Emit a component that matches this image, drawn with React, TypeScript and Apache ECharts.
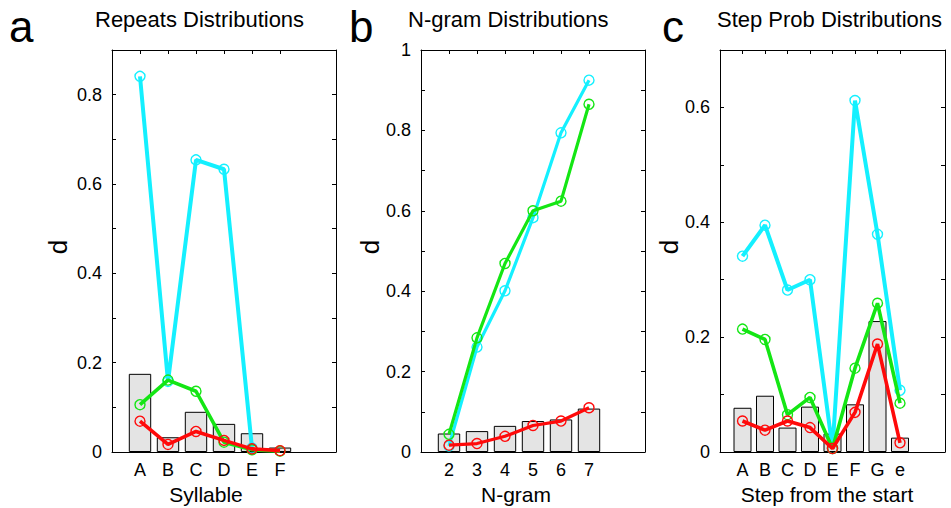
import React, { useEffect, useRef } from "react";
import * as echarts from "echarts";

// ---------- data ----------
const syllables = ["A", "B", "C", "D", "E", "F"];
const repeatsBars = [0.175, 0.033, 0.09, 0.063, 0.042, 0.01];
const repeatsCyan = [0.841, 0.158, 0.654, 0.633, 0.009, null];
const repeatsGreen = [0.106, 0.161, 0.136, 0.022, 0.005, 0.002];
const repeatsRed = [0.069, 0.017, 0.046, 0.026, 0.007, 0.003];

const ngrams = ["2", "3", "4", "5", "6", "7"];
const ngramBars = [0.046, 0.052, 0.065, 0.077, 0.081, 0.108];
const ngramCyan = [0.015, 0.261, 0.401, 0.583, 0.794, 0.925];
const ngramGreen = [0.044, 0.284, 0.469, 0.6, 0.624, 0.865];
const ngramRed = [0.017, 0.021, 0.039, 0.066, 0.077, 0.11];

const steps = ["A", "B", "C", "D", "E", "F", "G", "e"];
const stepBars = [0.077, 0.098, 0.0425, 0.079, 0.032, 0.083, 0.228, 0.025];
const stepCyan = [0.341, 0.395, 0.282, 0.3, 0.006, 0.612, 0.379, 0.1075];
const stepGreen = [0.214, 0.196, 0.065, 0.095, 0.006, 0.146, 0.259, 0.085];
const stepRed = [0.054, 0.038, 0.054, 0.0425, 0.006, 0.069, 0.188, 0.016];

const titles = ["Repeats Distributions", "N-gram Distributions", "Step Prob Distributions"];
const letters = ["a", "b", "c"];
const xNames = ["Syllable", "N-gram", "Step from the start"];
const yName = "d";
const yMaxes = [0.9, 1, 0.7];

// ---------- layout / style ----------
const FONT = '"Liberation Sans", Arial, Helvetica, sans-serif';
const CYAN = "#14f0ff";
const GREEN = "#14e614";
const RED = "#ff0a0a";
const BAR = "#e4e4e4";

const layout = [
  { left: 112, width: 224, titleX: 95, letterX: 9, xNameX: 206, yNameX: 58 },
  { left: 421, width: 224, titleX: 408, letterX: 349, xNameX: 516, yNameX: 370 },
  { left: 720, width: 225, titleX: 717, letterX: 662, xNameX: 827, yNameX: 669 },
];
const GRID_TOP = 50;
const GRID_H = 402;

const panelData = [
  { cats: syllables, bars: repeatsBars, cyan: repeatsCyan, green: repeatsGreen, red: repeatsRed },
  { cats: ngrams, bars: ngramBars, cyan: ngramCyan, green: ngramGreen, red: ngramRed },
  { cats: steps, bars: stepBars, cyan: stepCyan, green: stepGreen, red: stepRed },
];

function yFmt(v: number) {
  const k = Math.round(v * 10);
  if (k % 2 !== 0) return "";
  if (k === 0) return "0";
  if (k === 10) return "1";
  return "0." + k;
}

function buildOption() {
  const grid: any[] = [];
  const xAxis: any[] = [];
  const yAxis: any[] = [];
  const series: any[] = [];
  const graphic: any[] = [];

  panelData.forEach((p, i) => {
    const L = layout[i];
    const n = p.cats.length;
    const pos = p.cats.map((_, j) => j + 1);
    grid.push({ left: L.left, top: GRID_TOP, width: L.width, height: GRID_H, containLabel: false });

    const axisLine = { show: true, onZero: false, lineStyle: { color: "#000", width: 1 } };
    const xBase = {
      type: "value",
      gridIndex: i,
      min: 0,
      max: n + 2,
      interval: 1,
      splitLine: { show: false },
      axisLine,
    };
    xAxis.push({
      ...xBase,
      position: "bottom",
      axisTick: { show: true, inside: true, length: 4, customValues: pos, lineStyle: { color: "#000" } },
      axisLabel: {
        show: true,
        customValues: pos,
        margin: 9,
        fontSize: 18,
        fontFamily: FONT,
        color: "#000",
        formatter: (v: number) => p.cats[Math.round(v) - 1] ?? "",
      },
    });
    xAxis.push({
      ...xBase,
      position: "top",
      axisTick: { show: true, inside: true, length: 4, customValues: pos, lineStyle: { color: "#000" } },
      axisLabel: { show: false },
    });
    const yBase = {
      type: "value",
      gridIndex: i,
      min: 0,
      max: yMaxes[i],
      interval: 0.1,
      splitLine: { show: false },
      axisLine,
      axisTick: { show: true, inside: true, length: 4, lineStyle: { color: "#000" } },
    };
    yAxis.push({
      ...yBase,
      position: "left",
      axisLabel: { show: true, margin: 10, fontSize: 18, fontFamily: FONT, color: "#000", formatter: yFmt },
    });
    yAxis.push({ ...yBase, position: "right", axisLabel: { show: false } });

    const xi = i * 2;
    const yi = i * 2;
    const barW = (L.width / (n + 2)) * 0.8;
    series.push({
      type: "bar",
      xAxisIndex: xi,
      yAxisIndex: yi,
      barWidth: barW,
      data: p.bars.map((v, j) => [j + 1, v]),
      itemStyle: { color: BAR, borderColor: "#000", borderWidth: 1 },
      z: 1,
    });
    const lines: [(number | null)[], string, number][] = [
      [p.cyan, CYAN, i === 1 ? 3.2 : 4],
      [p.green, GREEN, i === 1 ? 3.2 : 3.6],
      [p.red, RED, i === 1 ? 3.2 : 3.6],
    ];
    lines.forEach(([vals, color, w], k) => {
      series.push({
        type: "line",
        xAxisIndex: xi,
        yAxisIndex: yi,
        data: vals.map((v, j) => [j + 1, v === null ? "-" : v]),
        symbol: "circle",
        symbolSize: 10,
        showSymbol: true,
        lineStyle: { color, width: w },
        itemStyle: { color: "rgba(0,0,0,0)", borderColor: color, borderWidth: 1.4 },
        z: 3 + k,
      });
    });

    graphic.push({
      type: "text",
      x: L.titleX,
      y: 19,
      style: { text: titles[i], fontSize: 22, fontFamily: FONT, fill: "#000", align: "left", verticalAlign: "middle", textAlign: "left", textVerticalAlign: "middle" },
    });
    graphic.push({
      type: "text",
      x: L.letterX,
      y: 26.5,
      style: { text: letters[i], fontSize: 44, fontFamily: FONT, fill: "#000", align: "left", verticalAlign: "middle", textAlign: "left", textVerticalAlign: "middle" },
    });
    graphic.push({
      type: "text",
      x: L.xNameX,
      y: 494,
      style: { text: xNames[i], fontSize: 21, fontFamily: FONT, fill: "#000", align: "center", verticalAlign: "middle", textAlign: "center", textVerticalAlign: "middle" },
    });
    graphic.push({
      type: "text",
      x: L.yNameX,
      y: 247,
      rotation: Math.PI / 2,
      style: { text: yName, fontSize: 26, fontFamily: FONT, fill: "#000", align: "center", verticalAlign: "middle", textAlign: "center", textVerticalAlign: "middle" },
    });
  });

  return { animation: false, backgroundColor: "#fff", grid, xAxis, yAxis, series, graphic };
}

export default function App() {
  const ref = useRef<HTMLDivElement>(null);
  useEffect(() => {
    if (!ref.current) return;
    const chart = echarts.init(ref.current, undefined, { renderer: "svg" });
    chart.setOption(buildOption() as any);
    return () => chart.dispose();
  }, []);
  return (
    <div
      ref={ref}
      style={{ position: "fixed", left: 0, top: 0, width: 951, height: 508, background: "#fff" }}
    />
  );
}
